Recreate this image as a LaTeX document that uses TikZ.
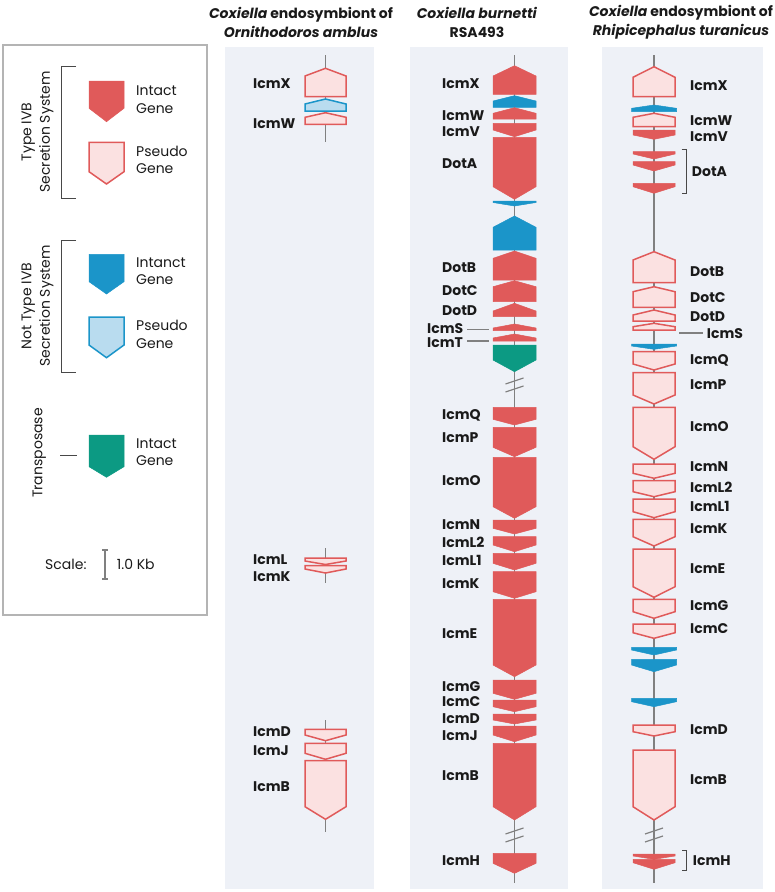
\documentclass[tikz,border=0pt]{standalone}
\usepackage{fontspec}
\setmainfont{Poppins}
\usetikzlibrary{positioning}
\definecolor{geneRed}{HTML}{E05A5A}
\definecolor{pseudoRed}{HTML}{FBE1E1}
\definecolor{geneBlue}{HTML}{1B95C9}
\definecolor{pseudoBlue}{HTML}{B9DCEF}
\definecolor{geneTeal}{HTML}{0C9A83}
\definecolor{panel}{HTML}{EEF1F7}
\definecolor{spine}{HTML}{808080}
\definecolor{boxgray}{HTML}{B4B4B4}
\definecolor{ink}{HTML}{1A1A1A}

\begin{document}
\begin{tikzpicture}[
  x=1pt, y=-1pt,
  every node/.style={font=\fontsize{14}{17}\selectfont, text=ink, inner sep=0pt},
  glabel/.style={anchor=west, font=\fontsize{14}{17}\selectfont\bfseries,
    text height=10pt, text depth=0pt},
  head/.style={align=center, font=\fontsize{14}{19}\selectfont\bfseries},
  legtext/.style={anchor=west, align=left, font=\fontsize{14}{17.5}\selectfont},
  sidetext/.style={rotate=90, align=center, font=\fontsize{14}{18.5}\selectfont},
  redI/.style={fill=geneRed, draw=geneRed, line width=0.5pt},
  redP/.style={fill=pseudoRed, draw=geneRed, line width=1.5pt},
  blueI/.style={fill=geneBlue, draw=geneBlue, line width=0.5pt},
  blueP/.style={fill=pseudoBlue, draw=geneBlue, line width=1.5pt},
  tealI/.style={fill=geneTeal, draw=geneTeal, line width=0.5pt},
  backbone/.style={draw=spine, line width=1.5pt},
  breakmark/.style={draw=spine, line width=1.2pt},
  bracket/.style={draw=ink!80, line width=0.8pt}
]
\useasboundingbox (0,0) rectangle (775,892);

% Panels
\fill[panel] (225,47) rectangle (374,889);
\fill[panel] (410,47) rectangle (568,889);
\fill[panel] (602,47) rectangle (763,889);

% Headings
\node[head] (h1) at (301,22) {\textit{Coxiella} endosymbiont of\\\textit{Ornithodoros amblus}};
\node[head] (h2) at (477,22) {\textit{Coxiella burnetti}\\RSA493};
\node[head] (h3) at (681,22) {\textit{Coxiella} endosymbiont of\\\textit{Rhipicephalus turanicus}};

% Legend
\draw[draw=boxgray, line width=1.5pt] (3,45) rectangle (207,615);
\draw[bracket] (76,66) -- (61,66) -- (61,198.3) -- (76,198.3);
\draw[bracket] (76,240) -- (61,240) -- (61,372.7) -- (76,372.7);
\draw[bracket] (60,455) -- (77,455);
\node[sidetext] (t4b) at (37.5,132) {Type IVB\\Secretion System};
\node[sidetext] (nt4b) at (37.5,306) {Not Type IVB\\Secretion System};
\node[sidetext] (tps) at (39.3,453) {Transposase};

\pgfmathsetmacro\lx{106.5}
\pgfmathsetmacro\lw{17.5}
\foreach \f/\s/\t/\g in {81/108.3/121.7/redI, 142.3/171.7/184/redP,
    254.3/281.7/294/blueI, 317/345/357.7/blueP, 435/466.7/477.3/tealI} {
  \draw[\g] (\lx-\lw,\f) -- (\lx+\lw,\f) -- (\lx+\lw,\s) -- (\lx,\t) -- (\lx-\lw,\s) -- cycle;
}
\node[legtext] (lg1) at (136,99.5) {Intact\\Gene};
\node[legtext] (lg2) at (136,159.7) {Pseudo\\Gene};
\node[legtext] (lg3) at (136,271.3) {Intanct\\Gene};
\node[legtext] (lg4) at (136,334.3) {Pseudo\\Gene};
\node[legtext] (lg5) at (136,452) {Intact\\Gene};

% Scale bar
\node[anchor=west] (scl) at (45,564.5) {Scale:};
\draw[draw=spine, line width=1.2pt] (102,550) -- (108,550) (105,550) -- (105,579) (102,579) -- (108,579);
\node[anchor=west] (kb) at (116.7,564.5) {1.0 Kb};

% Column 1
\pgfmathsetmacro\cx{325.5}
\pgfmathsetmacro\hw{20.5}
\draw[backbone] (\cx,55) -- (\cx,141.7);
\draw[backbone] (\cx,548.3) -- (\cx,583.3);
\draw[backbone] (\cx,720) -- (\cx,832);
\foreach \f/\s/\t/\g in {96.7/76/68.3/redP, 111/104/99/blueP, 124.3/117.3/112.7/redP,
    558/561/564.5/redP, 565.5/569/573/redP,
    729.3/735/740.7/redP, 743.3/753.3/759.3/redP, 760.7/806.7/819.3/redP} {
  \draw[\g] (\cx-\hw,\f) -- (\cx+\hw,\f) -- (\cx+\hw,\s) -- (\cx,\t) -- (\cx-\hw,\s) -- cycle;
}
\foreach \y/\n in {83.3/IcmX, 123.3/IcmW, 559.3/IcmL, 576.7/IcmK,
    731.7/IcmD, 750/IcmJ, 786/IcmB} {
  \node[glabel] (a\n) at (253,\y) {\n};
}

% Column 2
\pgfmathsetmacro\cx{514.5}
\pgfmathsetmacro\hw{21.5}
\draw[backbone] (\cx,55) -- (\cx,883);
\foreach \y in {381,389,831,839} {
  \draw[breakmark] (\cx-9,\y+3) -- (\cx+9,\y-3);
}
\foreach \f/\s/\t/\g in {94.3/76/65.7/redI, 107.3/101/95.7/blueI, 119/113.3/107.7/redI,
    123.3/130/136.7/redI, 137.3/186.7/199.3/redI, 201/202.5/206/blueI,
    250/227.3/216/blueI, 280/258.3/251/redI, 301.7/286.7/280.7/redI,
    316.7/311/303.3/redI, 330.7/328/324/redI, 341/338/334/redI,
    345/360/371.7/tealI,
    407.3/419.3/425/redI, 427.3/447.3/456.7/redI, 457.3/506.7/518.3/redI,
    520/528.3/534/redI, 536.7/545/551.7/redI, 553.3/563.3/570/redI,
    571.7/591.7/598.3/redI, 599.3/665/676.7/redI, 680/693.3/699.3/redI,
    700/706.7/711.7/redI, 714/720/724/redI, 726/735/741.7/redI,
    743.3/806.7/820/redI, 853.3/863.3/873.3/redI} {
  \draw[\g] (\cx-\hw,\f) -- (\cx+\hw,\f) -- (\cx+\hw,\s) -- (\cx,\t) -- (\cx-\hw,\s) -- cycle;
}
\foreach \y/\n in {83/IcmX, 115/IcmW, 131.7/IcmV, 163/DotA, 267.3/DotB, 290.7/DotC,
    310/DotD, 414/IcmQ, 437.7/IcmP, 480/IcmO, 524.3/IcmN, 542.3/IcmL2,
    560.7/IcmL1, 583.3/IcmK, 633.3/IcmE, 686.7/IcmG, 701.7/IcmC,
    718.3/IcmD, 735/IcmJ, 775/IcmB, 860.7/IcmH} {
  \node[glabel] (b\n) at (442,\y) {\n};
}
\node[glabel] (bIcmS) at (427,328.5) {IcmS};
\node[glabel] (bIcmT) at (427,342.5) {IcmT};
\coordinate (bS) at (489,329.5);
\coordinate (bT) at (489,341);
\draw[draw=spine, line width=1.2pt, shorten <=4pt] (bIcmS.east |- bS) -- (bS);
\draw[draw=spine, line width=1.2pt, shorten <=4pt] (bIcmT.east |- bT) -- (bT);

% Column 3
\pgfmathsetmacro\cx{654}
\pgfmathsetmacro\hw{21}
\pgfmathsetmacro\bw{22.5}
\draw[backbone] (\cx,55) -- (\cx,883);
\foreach \y in {831,839} {
  \draw[breakmark] (\cx-9,\y+3) -- (\cx+9,\y-3);
}
\foreach \f/\s/\t/\g in {96.7/77.3/66.7/redP, 126.7/117.3/113.3/redP,
    130/135/139.3/redI, 151.7/154/159/redI, 161.7/165/171/redI, 183.3/186.7/193.3/redI,
    282.7/260/251.7/redP, 307.3/291.7/286.7/redP, 321/315/310/redP, 330/326.7/323.3/redP,
    351.7/364/370/redP, 372.7/395/404/redP, 407.3/446.7/459.3/redP,
    464/473.3/478.3/redP, 480.7/491.7/496.7/redP, 499/511.7/517.7/redP,
    519.3/536.7/546/redP, 549/586.7/597.3/redP, 599.3/611.7/618.3/redP,
    624/632.7/638.3/redP, 725/731.7/736/redP, 750/806.7/820/redP,
    854/856/859.3/redI, 859.3/862.7/869.3/redI} {
  \draw[\g] (\cx-\hw,\f) -- (\cx+\hw,\f) -- (\cx+\hw,\s) -- (\cx,\t) -- (\cx-\hw,\s) -- cycle;
}
\foreach \f/\s/\t in {111.7/108.3/105, 344/346/349.3, 647.3/650/655,
    659.3/665/671.7, 698.3/701.7/706.7} {
  \draw[blueI] (\cx-\bw,\f) -- (\cx+\bw,\f) -- (\cx+\bw,\s) -- (\cx,\t) -- (\cx-\bw,\s) -- cycle;
}
\foreach \y/\n in {85/IcmX, 120.5/IcmW, 136.5/IcmV, 271/DotB, 297.3/DotC,
    316.7/DotD, 359.3/IcmQ, 384/IcmP, 426.7/IcmO, 466/IcmN, 487.7/IcmL2,
    506.7/IcmL1, 528.3/IcmK, 568.3/IcmE, 605/IcmG, 628.3/IcmC,
    729.3/IcmD, 779.3/IcmB} {
  \node[glabel] (c\n) at (690,\y) {\n};
}
\node[glabel] (cDotA) at (691.7,171.7) {DotA};
\node[glabel] (cIcmH) at (692.7,860.7) {IcmH};
\node[glabel] (cIcmS) at (706.7,333) {IcmS};
\coordinate (cS) at (679.3,333);
\draw[draw=spine, line width=1.2pt, shorten <=4pt] (cIcmS.west) -- (cS);
\draw[bracket] (681.7,149) -- (686.7,149) -- (686.7,193.3) -- (681.7,193.3);
\draw[bracket] (682,850) -- (686,850) -- (686,870.7) -- (682,870.7);

\end{tikzpicture}
\end{document}
